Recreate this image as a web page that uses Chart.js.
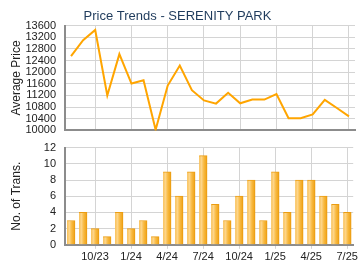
<!DOCTYPE html>
<html><head><meta charset="utf-8">
<script src="https://cdn.jsdelivr.net/npm/chart.js@4/dist/chart.umd.min.js"></script>
<style>
html,body{margin:0;padding:0;background:#fff;}
#wrap{position:relative;width:360px;height:270px;overflow:hidden;}
.box{position:absolute;left:0;width:360px;}
</style></head><body>
<div id="wrap">
  <div class="box" style="top:0;height:146px;"><canvas id="c1"></canvas></div>
  <div class="box" style="top:132px;height:138px;"><canvas id="c2"></canvas></div>
</div>
<script>
const months = ['8/23','9/23','10/23','11/23','12/23','1/24','2/24','3/24','4/24','5/24','6/24','7/24','8/24','9/24','10/24','11/24','12/24','1/25','2/25','3/25','4/25','5/25','6/25','7/25'];
const tickMonths = ['10/23','1/24','4/24','7/24','10/24','1/25','4/25','7/25'];
const avgPrice = [12550,13100,13450,11200,12620,11610,11720,10020,11540,12230,11380,11030,10920,11290,10930,11060,11060,11250,10420,10420,10550,11050,10770,10480];
const transactions = [3,4,2,1,4,2,3,1,9,6,9,11,5,3,6,8,3,9,4,8,8,6,5,4];
const titleText = 'Price Trends - SERENITY PARK';

const FONT = 'Arial, "Liberation Sans", sans-serif';
Chart.defaults.font.family = FONT;
Chart.defaults.animation = false;
Chart.defaults.responsive = true;
Chart.defaults.maintainAspectRatio = false;

const gridCol = '#d4d4d4';
const axisCol = '#8c8c8c';
const LEFT_W = 65;

function quarterGrid(ctx){
  const lbl = months[ctx.index];
  return (ctx.tick && tickMonths.includes(lbl)) ? gridCol : 'rgba(0,0,0,0)';
}

new Chart(document.getElementById('c1'), {
  type: 'line',
  data: { labels: months, datasets: [{
    data: avgPrice, borderColor: '#ffa500', borderWidth: 2, pointRadius: 0,
    tension: 0, fill: false
  }]},
  options: {
    layout: { padding: { left: 0, right: 5, top: 0, bottom: 5 } },
    plugins: {
      legend: { display: false }, tooltip: { enabled: false },
      title: { display: true, text: titleText, color: '#1f3b5c',
        font: { size: 13, weight: 'normal', family: FONT }, padding: { top: 9, bottom: 1 },
        align: 'center' }
    },
    scales: {
      x: { offset: true,
        grid: { offset: false, color: quarterGrid, drawTicks: false },
        border: { color: axisCol, width: 2 },
        ticks: { display: false, autoSkip: false } },
      y: { min: 10000, max: 13600,
        afterFit: s => { s.width = LEFT_W; },
        grid: { color: gridCol, drawTicks: false },
        border: { color: axisCol, width: 2 },
        ticks: { stepSize: 400, autoSkip: false, color: '#222', font: { size: 11 }, padding: 9,
          callback: v => String(v) },
        title: { display: true, text: 'Average Price', color: '#222', font: { size: 12 }, padding: { top: 9, bottom: 0 } } }
    }
  }
});

function barGrad(ctx){
  const chart = ctx.chart;
  const xs = chart.scales && chart.scales.x;
  if (!xs || ctx.dataIndex === undefined) return '#f8b83c';
  const cx = xs.getPixelForValue(ctx.dataIndex);
  if (!isFinite(cx)) return '#f8b83c';
  const w = 8;
  const g = chart.ctx.createLinearGradient(cx - w/2, 0, cx + w/2, 0);
  g.addColorStop(0, '#f9c056');
  g.addColorStop(0.3, '#fdd589');
  g.addColorStop(0.6, '#f8b940');
  g.addColorStop(1, '#eea014');
  return g;
}

new Chart(document.getElementById('c2'), {
  type: 'bar',
  data: { labels: months, datasets: [{
    data: transactions, backgroundColor: barGrad, borderColor: '#eb9d12',
    borderWidth: { top: 1, left: 0, right: 1, bottom: 0 }, barThickness: 8, borderSkipped: 'bottom'
  }]},
  options: {
    layout: { padding: { left: 0, right: 5, top: 4, bottom: 4 } },
    plugins: { legend: { display: false }, tooltip: { enabled: false } },
    scales: {
      x: { offset: true,
        grid: { offset: false, color: quarterGrid, drawTicks: true, tickLength: 4 },
        border: { color: axisCol, width: 2 },
        ticks: { autoSkip: false, maxRotation: 0, color: '#222', font: { size: 11 }, padding: 2,
          callback: (v, i) => tickMonths.includes(months[i]) ? months[i] : '' } },
      y: { min: 0, max: 12,
        afterFit: s => { s.width = LEFT_W; },
        grid: { color: gridCol, drawTicks: false },
        border: { color: axisCol, width: 2 },
        ticks: { stepSize: 2, autoSkip: false, color: '#222', font: { size: 11 }, padding: 9 },
        title: { display: true, text: 'No. of Trans.', color: '#222', font: { size: 12 }, padding: { top: 9, bottom: 0 } } }
    }
  }
});
</script>
</body></html>
